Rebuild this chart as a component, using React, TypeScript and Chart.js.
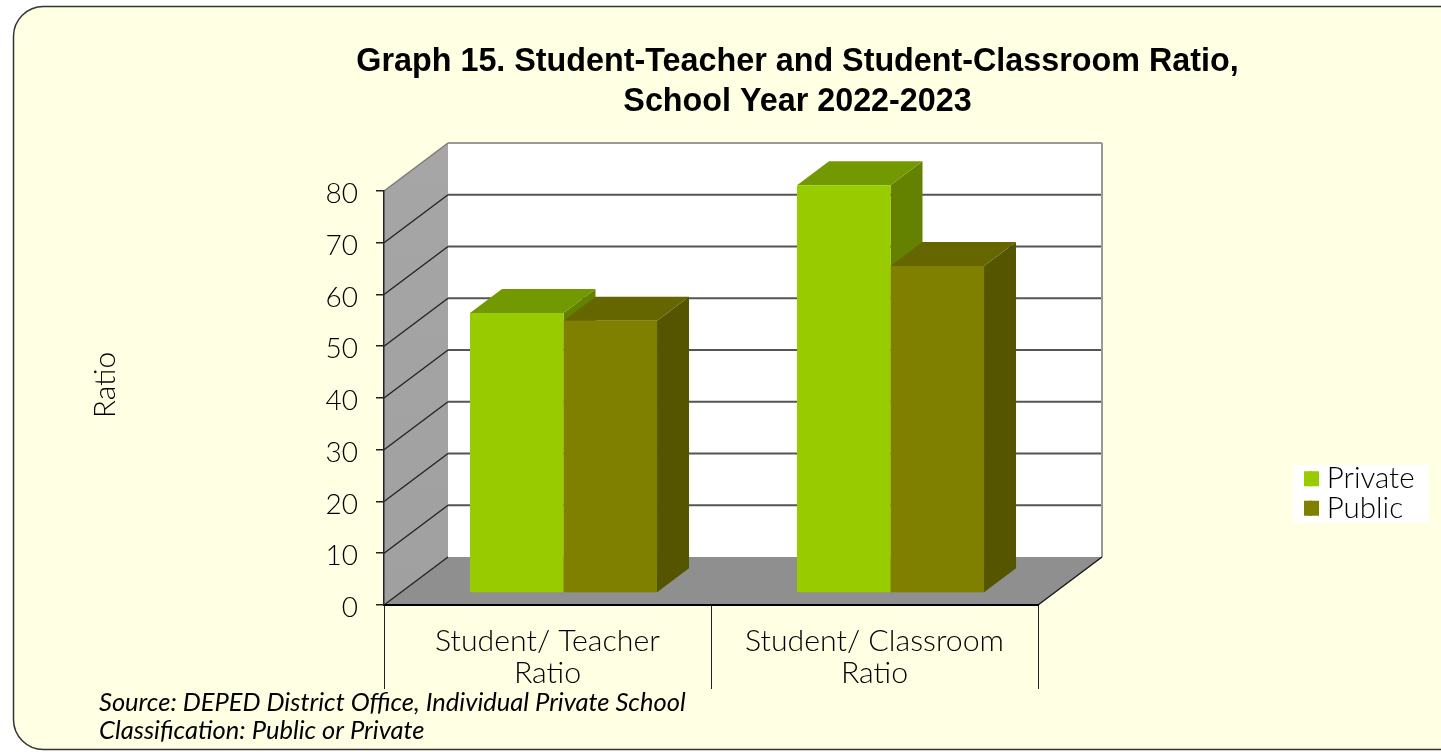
import React, { useEffect, useRef } from "react";
import { Chart, registerables } from "chart.js";

Chart.register(...registerables);

const categories = [["Student/ Teacher", "Ratio"], ["Student/ Classroom", "Ratio"]];
const privateValues = [54.1, 78.8];
const publicValues = [52.6, 63.2];
const yMax = 80;
const yStep = 10;
const titleLines = ["Graph 15. Student-Teacher and Student-Classroom Ratio,", "School Year 2022-2023"];
const sourceLines = ["Source: DEPED District Office, Individual Private School", "Classification: Public or Private"];
const yAxisTitle = "Ratio";

const frontColors = ["#99CC00", "#808000"];
const topColors = ["#739900", "#666600"];
const sideColors = ["#648200", "#555500"];

const FACE = "Lato, sans-serif";
const W = 1441;
const H = 752;
const wallDX = 64;
const wallDY = -48;
const barShiftX = 16;
const barShiftY = -12;
const barDX = 32;
const barDY = -24;

function poly(ctx: CanvasRenderingContext2D, pts: number[][], fill: any) {
  ctx.beginPath();
  pts.forEach((p, i) => (i ? ctx.lineTo(p[0], p[1]) : ctx.moveTo(p[0], p[1])));
  ctx.closePath();
  ctx.fillStyle = fill;
  ctx.fill();
}

function line(ctx: CanvasRenderingContext2D, x1: number, y1: number, x2: number, y2: number, color: string, w: number) {
  ctx.beginPath();
  ctx.moveTo(x1, y1);
  ctx.lineTo(x2, y2);
  ctx.strokeStyle = color;
  ctx.lineWidth = w;
  ctx.stroke();
}

const solidPlugin = {
  id: "solid",
  afterLayout(chart: any) {
    const l = chart.legend;
    const w = l.right - l.left;
    l.left = 1309;
    l.right = 1309 + w;
    l.top = 464;
    l.bottom = H;
  },
  beforeDraw(chart: any) {
    const ctx: CanvasRenderingContext2D = chart.ctx;
    const { left, right, top, bottom } = chart.chartArea;
    const y = chart.scales.y;
    ctx.save();
    ctx.fillStyle = "#ffffff";
    ctx.fillRect(0, 0, W, H);
    ctx.beginPath();
    ctx.roundRect(13.5, 6.5, W + 40, 743, 30);
    ctx.fillStyle = "#FFFFE3";
    ctx.fill();
    ctx.strokeStyle = "#333333";
    ctx.lineWidth = 1.5;
    ctx.stroke();

    const bl = left + wallDX;
    const br = right + wallDX;
    const bt = top + wallDY;
    const bb = bottom + wallDY;
    poly(ctx, [[bl, bt], [br, bt], [br, bb], [bl, bb]], "#ffffff");
    const wall = ctx.createLinearGradient(0, bt, 0, bottom);
    wall.addColorStop(0, "#a6a6a6");
    wall.addColorStop(1, "#a0a0a0");
    poly(ctx, [[left, top], [bl, bt], [bl, bb], [left, bottom]], wall);
    poly(ctx, [[left, bottom], [right, bottom], [br, bb], [bl, bb]], "#8f8f8f");

    y.ticks.forEach((t: any) => {
      const py = y.getPixelForValue(t.value);
      if (t.value > 0 && t.value < yMax) line(ctx, bl, py + wallDY, br, py + wallDY, "#555555", 2);
      line(ctx, left, py, bl, py + wallDY, t.value === yMax ? "#777777" : "#222222", 1.3);
    });
    line(ctx, bl, bt, br, bt, "#999999", 2);
    line(ctx, br, bt, br, bb, "#999999", 2);
    line(ctx, right, bottom, br, bb, "#111111", 1.3);
    ctx.fillStyle = "#ffffff";
    ctx.fillRect(1293, 465, 136, 58);
    ctx.restore();
  },
  beforeDatasetsDraw(chart: any) {
    const ctx: CanvasRenderingContext2D = chart.ctx;
    ctx.save();
    ctx.translate(barShiftX, barShiftY);
    chart.data.datasets.forEach((_: any, i: number) => {
      chart.getDatasetMeta(i).data.forEach((el: any) => {
        const { x, y, base, width } = el.getProps(["x", "y", "base", "width"], true);
        const l = x - width / 2;
        const r = x + width / 2;
        poly(ctx, [[r, y], [r + barDX, y + barDY], [r + barDX, base + barDY], [r, base]], sideColors[i]);
        poly(ctx, [[l, y], [r, y], [r + barDX, y + barDY], [l + barDX, y + barDY]], topColors[i]);
      });
    });
  },
  afterDatasetsDraw(chart: any) {
    chart.ctx.restore();
  },
  afterDraw(chart: any) {
    const ctx: CanvasRenderingContext2D = chart.ctx;
    ctx.save();
    chart.legend.legendHitBoxes.forEach((hb: any, i: number) => {
      ctx.fillStyle = frontColors[i];
      ctx.fillRect(hb.left - 5, hb.top + (hb.height - 15) / 2, 15, 15);
    });
    ctx.fillStyle = "#000000";
    ctx.textBaseline = "middle";
    ctx.font = `italic 25.5px ${FACE}`;
    ctx.textAlign = "left";
    sourceLines.forEach((s, i) => ctx.fillText(s, 99, 703 + i * 28));
    ctx.translate(105, 385);
    ctx.rotate(-Math.PI / 2);
    ctx.textAlign = "center";
    ctx.font = `300 30px ${FACE}`;
    ctx.fillText(yAxisTitle, 0, 0);
    ctx.restore();
  },
};

export default function App() {
  const ref = useRef<HTMLCanvasElement>(null);
  useEffect(() => {
    const chart = new Chart(ref.current!, {
      type: "bar",
      data: {
        labels: categories as any,
        datasets: [
          { label: "Private", data: privateValues, backgroundColor: frontColors[0], clip: false as any },
          { label: "Public", data: publicValues, backgroundColor: frontColors[1], clip: false as any },
        ],
      },
      plugins: [solidPlugin],
      options: {
        responsive: false,
        animation: false,
        layout: { padding: { left: 154, right: 0, top: 0, bottom: 0 } },
        datasets: { bar: { categoryPercentage: 0.572, barPercentage: 1 } },
        plugins: {
          tooltip: { enabled: false },
          title: {
            display: true,
            text: titleLines,
            color: "#000000",
            font: { family: "'Liberation Sans', sans-serif", size: 32.3, weight: "bold", lineHeight: 1.238 },
            padding: { top: 42, bottom: 69 },
          },
          legend: {
            position: "right",
            align: "start",
            labels: {
              boxWidth: 3,
              boxHeight: 15,
              padding: 0,
              color: "#000000",
              font: { family: FACE, size: 29.5, weight: "300" },
            },
          },
        },
        scales: {
          x: {
            offset: true,
            grid: { drawOnChartArea: false, tickLength: 84, color: "#222222", lineWidth: 1, offset: true },
            border: { color: "#000000", width: 2 },
            ticks: {
              padding: -64,
              maxRotation: 0,
              autoSkip: false,
              color: "#000000",
              font: { family: FACE, size: 30.3, weight: "300", lineHeight: 1.056 },
            },
            afterFit: (s: any) => {
              s.height = 147;
            },
          },
          y: {
            min: 0,
            max: yMax,
            grid: { drawOnChartArea: false, tickLength: 8, color: "#222222", lineWidth: 1.5 },
            border: { color: "#222222", width: 1.5 },
            ticks: {
              stepSize: yStep,
              padding: 18,
              labelOffset: 3,
              color: "#000000",
              font: { family: FACE, size: 28, weight: "300" },
            },
            afterFit: (s: any) => {
              s.width = 230;
            },
          },
          spacer: {
            type: "linear",
            position: "right",
            display: true,
            grid: { display: false },
            border: { display: false },
            ticks: { display: false },
            afterFit: (s: any) => {
              s.width = W - 1038 - s.chart.legend.width;
            },
          },
        },
      } as any,
    });
    return () => chart.destroy();
  }, []);
  return (
    <canvas
      ref={ref}
      width={W}
      height={H}
      style={{ position: "fixed", left: 0, top: 0, display: "block" }}
    />
  );
}
